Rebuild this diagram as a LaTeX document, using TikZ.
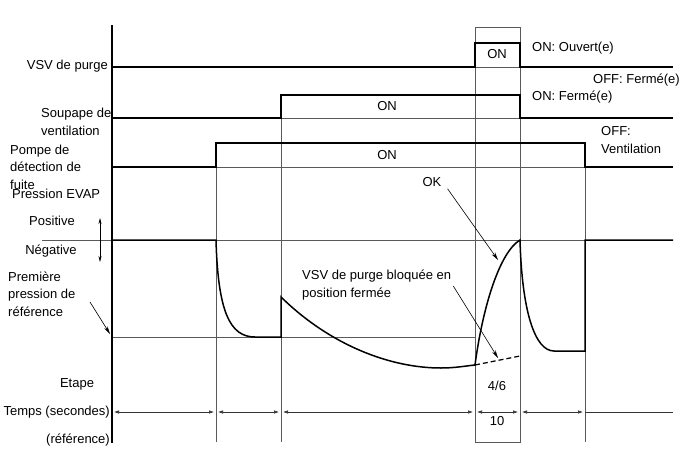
\documentclass[tikz,border=0pt]{standalone}
\usepackage{fontspec}
\setmainfont{Liberation Sans}
\usetikzlibrary{arrows.meta}
\begin{document}
\begin{tikzpicture}[x=1pt,y=-1pt,
  sig/.style={draw=black,line width=1.5pt},
  guide/.style={draw=black!65,line width=0.7pt},
  lbl/.style={font=\fontsize{13}{17.5}\selectfont,inner sep=0pt,align=left},
  dim/.style={draw=black!80,line width=0.6pt,{Latex[length=5pt,width=3.5pt]}-{Latex[length=5pt,width=3.5pt]},shorten <=2pt,shorten >=2pt},
  pointer/.style={draw=black,line width=0.6pt,-{Stealth[length=8pt,width=4pt]}}]
\useasboundingbox (0,0) rectangle (688,463);
% guides:
\path[guide] (475,27) rectangle (520,442);
\path[guide] (216,143) -- (216,442);
\path[guide] (281,95) -- (281,442);
\path[guide] (585,143) -- (585,442);
\path[guide] (475,67) -- (520,67);
\path[guide] (281,118) -- (520,118);
\path[guide] (216,167) -- (585,167);
\path[guide] (42,240) -- (673,240);
\path[guide] (112,337) -- (475,337);
% signals:
\path[sig] (112,25) -- (112,443);
\path[sig] (112,67) -- (475,67) -- (475,43) -- (520,43) -- (520,67) -- (673,67);
\path[sig] (112,118) -- (281,118) -- (281,95) -- (520,95) -- (520,118) -- (673,118);
\path[sig] (112,167) -- (216,167) -- (216,143) -- (585,143) -- (585,167) -- (673,167);
\path[sig] (112,240) -- (216,240) .. controls (218,312) and (230,337) .. (255,337) -- (281,337) -- (281,297)
  .. controls (330,345) and (390,368) .. (441,368) .. controls (455,368) and (465,366) .. (475,365)
  .. controls (483,305) and (500,252) .. (520,240)
  .. controls (522,312) and (535,351) .. (554,351) -- (585,351) -- (585,240) -- (673,240);
\path[sig,line width=1.2pt,dash pattern=on 5pt off 3pt] (475,365) -- (520,356);
% labels:
\node[lbl,anchor=east] (vsv) at (108,66) {VSV de purge};
\node[lbl,anchor=west] (soup) at (41,122) {Soupape de\\ventilation};
\node[lbl,anchor=west] (pompe) at (10,167) {Pompe de\\détection de\\fuite};
\node[lbl,anchor=west] (evap) at (12,194) {Pression EVAP};
\node[lbl] (pos) at (52,221) {Positive};
\node[lbl] (neg) at (51,251) {Négative};
\node[lbl,anchor=west] (ref1) at (8,294) {Première\\pression de\\référence};
\node[lbl] (etape) at (77,384) {Etape};
\node[lbl,anchor=east] (temps) at (110,412) {Temps (secondes)};
\node[lbl,anchor=east] (refer) at (110,440) {(référence)};
\node[lbl] (on1) at (497,54) {ON};
\node[lbl] (on2) at (387,106) {ON};
\node[lbl] (on3) at (387,155) {ON};
\node[lbl,anchor=west] (ouv) at (532,48) {ON: Ouvert(e)};
\node[lbl,anchor=east] (ferm1) at (680,80) {OFF: Fermé(e)};
\node[lbl,anchor=west] (ferm2) at (532,97) {ON: Fermé(e)};
\node[lbl,anchor=west] (vent) at (601,140) {OFF:\\Ventilation};
\node[lbl] (ok) at (432,182) {OK};
\node[lbl,anchor=west] (bloq) at (302,285) {VSV de purge bloquée en\\position fermée};
\node[lbl] (etp) at (497,386) {4/6};
\node[lbl] (sec) at (497,421) {10};
% pointers:
\coordinate (okTip) at (498,260);
\coordinate (bloqTip) at (498,358);
\coordinate (refFrom) at (90,302);
\coordinate (refTo) at (110,334);
\coordinate (posTip) at (100,218);
\coordinate (negTip) at (100,262);
\draw[pointer] (ok.south east) ++(6,2) -- (okTip);
\draw[pointer] (bloq.east) ++(2,1) -- (bloqTip);
\draw[pointer] (refFrom) -- (refTo);
\draw[pointer,{Stealth[length=6pt,width=3pt]}-{Stealth[length=6pt,width=3pt]}] (posTip) -- (negTip);
% time scale:
\coordinate (t0) at (112,412);
\coordinate (t1) at (216,412);
\coordinate (t2) at (281,412);
\coordinate (t3) at (475,412);
\coordinate (t4) at (520,412);
\coordinate (t5) at (585,412);
\coordinate (t6) at (673,412);
\draw[dim] (t0) -- (t1);
\draw[dim] (t1) -- (t2);
\draw[dim] (t2) -- (t3);
\draw[dim] (t3) -- (t4);
\draw[dim] (t4) -- (t5);
\path[draw=black!80,line width=0.6pt] (t5) -- (t6);
\end{tikzpicture}
\end{document}
